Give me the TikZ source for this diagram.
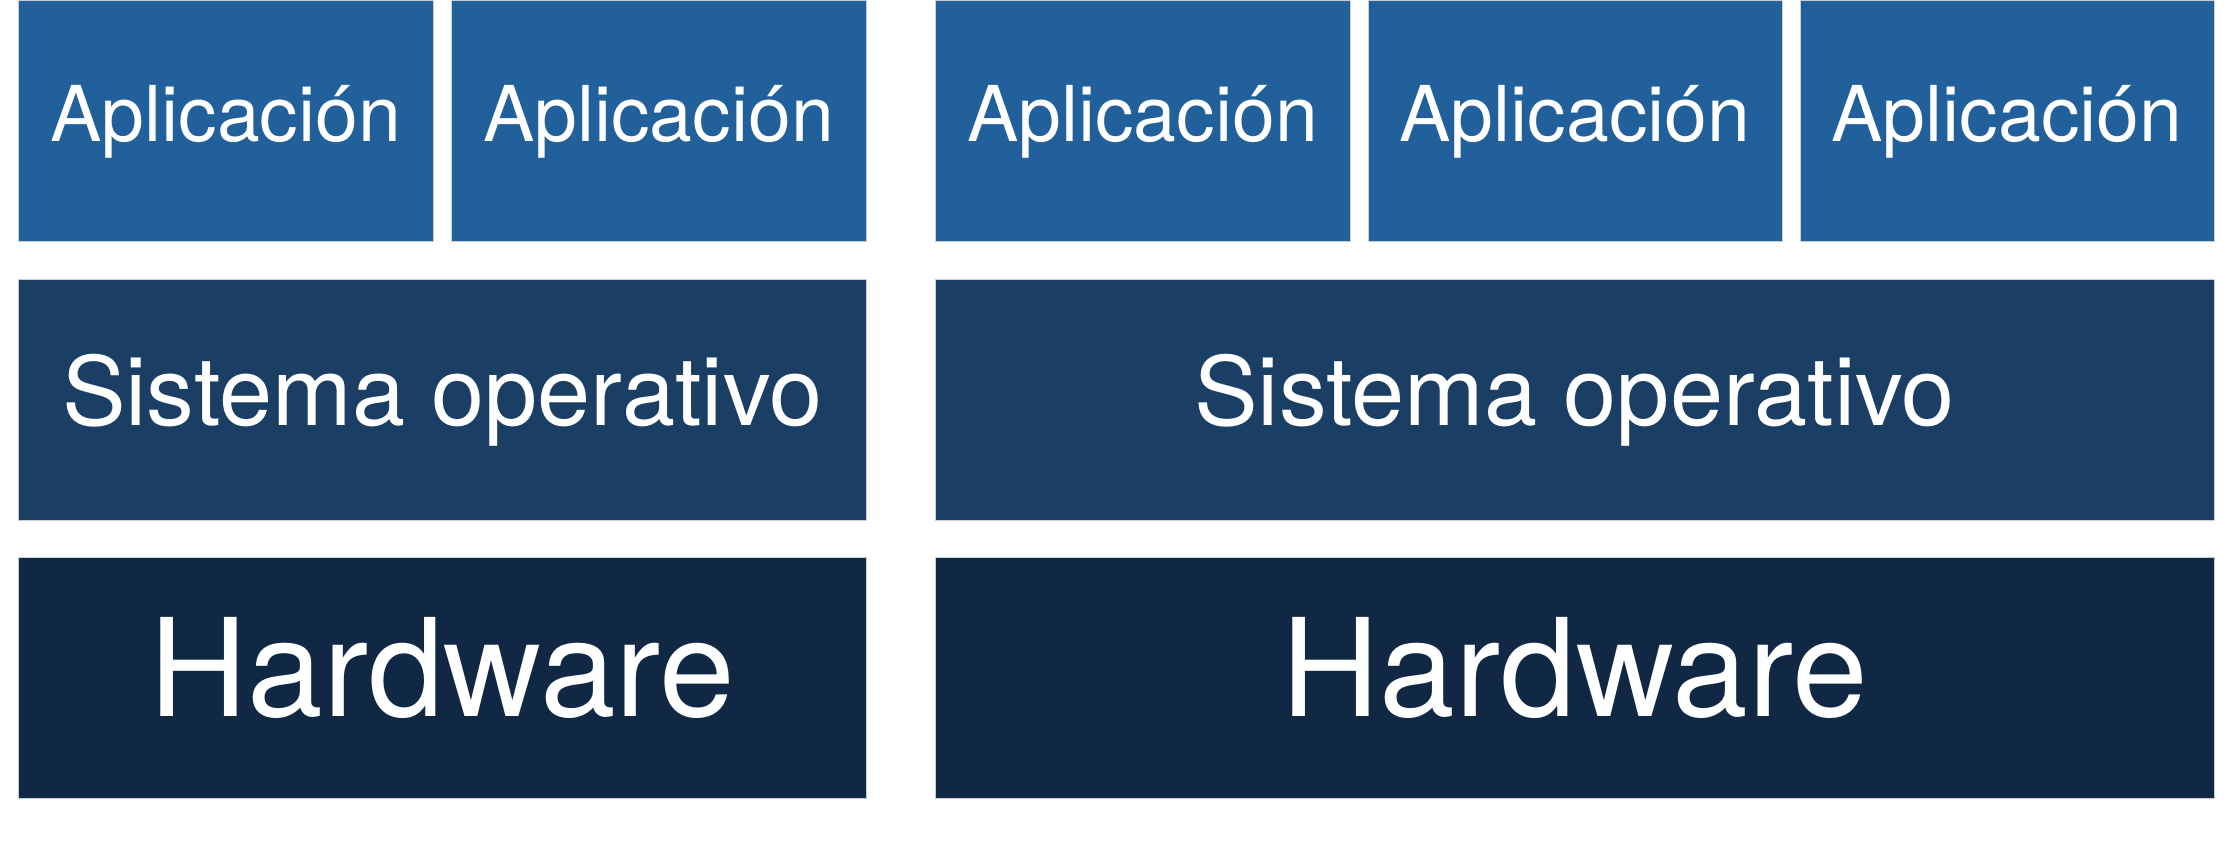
\documentclass[tikz,border=0pt]{standalone}
\usepackage{fontspec}
\setmainfont{TeX Gyre Heros}
\definecolor{appblue}{HTML}{22609B}
\definecolor{osblue}{HTML}{1B3E64}
\definecolor{hwblue}{HTML}{102843}
\definecolor{edgegray}{HTML}{C9CED6}
\begin{document}
\begin{tikzpicture}[x=1pt,y=-1pt,
  layer/.style={rectangle, inner sep=0pt, draw=edgegray, line width=0.8pt, text=white, anchor=center},
  appbox/.style={layer, fill=appblue, minimum height=241pt, text height=43pt, text depth=0pt, font=\fontsize{77}{82}\selectfont},
  osbox/.style={layer, fill=osblue, minimum height=241pt, text height=52pt, text depth=0pt, font=\fontsize{95.5}{100}\selectfont},
  hwbox/.style={layer, fill=hwblue, minimum height=241pt, text height=77.5pt, text depth=0pt, font=\fontsize{136}{140}\selectfont}]
\useasboundingbox (0,0) rectangle (2232,842);
\fill[white] (0,0) rectangle (2232,842);
% left stack
\node[appbox, minimum width=414.5pt] (a1) at (225.75,120.5) {Aplicación};
\node[appbox, minimum width=415pt] (a2) at (658.5,120.5) {Aplicación};
\node[osbox, minimum width=847.5pt] (os1) at (442.25,399.5) {Sistema operativo};
\node[hwbox, minimum width=847.5pt] (hw1) at (442.25,677.5) {Hardware};
% right stack
\node[appbox, minimum width=415pt] (a3) at (1142.5,120.5) {Aplicación};
\node[appbox, minimum width=414pt] (a4) at (1575,120.5) {Aplicación};
\node[appbox, minimum width=414pt] (a5) at (2007,120.5) {Aplicación};
\node[osbox, minimum width=1279pt] (os2) at (1574.5,399.5) {Sistema operativo};
\node[hwbox, minimum width=1279pt] (hw2) at (1574.5,677.5) {Hardware};
\end{tikzpicture}
\end{document}
